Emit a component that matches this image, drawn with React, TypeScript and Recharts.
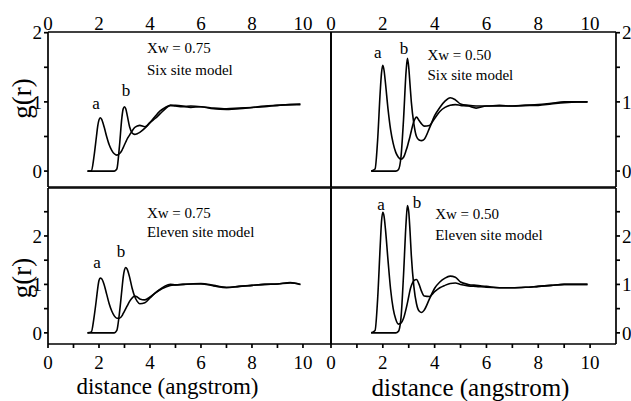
import React from 'react';
import { LineChart, Line, XAxis, YAxis, ReferenceDot } from 'recharts';

// distance grid (angstrom)
const R = [1.55, 1.7, 1.8, 1.9, 1.95, 2.0, 2.05, 2.1, 2.2, 2.3, 2.4, 2.5, 2.6, 2.7, 2.8, 2.9, 2.95, 3.0, 3.05, 3.1, 3.2, 3.3, 3.4, 3.5, 3.6, 3.8, 4.0, 4.2, 4.4, 4.6, 4.8, 5.0, 5.3, 5.6, 6.0, 6.5, 7.0, 7.5, 8.0, 8.5, 9.0, 9.5, 9.9];

// Xw = 0.75, six site model
const SIX75_A = [0, 0, 0.2, 0.5, 0.65, 0.74, 0.77, 0.75, 0.64, 0.5, 0.38, 0.3, 0.25, 0.23, 0.25, 0.3, 0.34, 0.38, 0.42, 0.46, 0.52, 0.58, 0.63, 0.65, 0.66, 0.64, 0.7, 0.79, 0.87, 0.92, 0.95, 0.94, 0.93, 0.94, 0.93, 0.9, 0.89, 0.9, 0.92, 0.94, 0.95, 0.96, 0.96];
const SIX75_B = [0, 0, 0, 0, 0, 0, 0, 0, 0, 0, 0, 0, 0, 0.03, 0.35, 0.78, 0.9, 0.93, 0.9, 0.82, 0.64, 0.55, 0.53, 0.54, 0.56, 0.62, 0.7, 0.76, 0.83, 0.9, 0.95, 0.95, 0.94, 0.92, 0.93, 0.91, 0.9, 0.91, 0.92, 0.93, 0.95, 0.96, 0.97];

// Xw = 0.50, six site model
const SIX50_A = [0, 0.03, 0.45, 1.15, 1.42, 1.53, 1.45, 1.28, 0.9, 0.6, 0.4, 0.27, 0.2, 0.17, 0.2, 0.3, 0.36, 0.43, 0.5, 0.58, 0.72, 0.78, 0.73, 0.68, 0.65, 0.66, 0.76, 0.86, 0.92, 0.95, 0.96, 0.95, 0.94, 0.91, 0.94, 0.94, 0.94, 0.95, 0.95, 0.97, 0.99, 1.0, 1.0];
const SIX50_B = [0, 0, 0, 0, 0, 0, 0, 0, 0, 0, 0, 0, 0.02, 0.2, 0.75, 1.45, 1.63, 1.5, 1.25, 1.0, 0.68, 0.5, 0.45, 0.44, 0.46, 0.62, 0.8, 0.92, 1.01, 1.06, 1.03, 0.97, 0.95, 0.94, 0.94, 0.95, 0.94, 0.95, 0.96, 0.98, 1.0, 1.0, 1.0];

// Xw = 0.75, eleven site model
const ELEVEN75_A = [0, 0.02, 0.3, 0.7, 0.92, 1.08, 1.13, 1.12, 1.0, 0.8, 0.6, 0.45, 0.35, 0.3, 0.3, 0.35, 0.4, 0.45, 0.5, 0.55, 0.65, 0.72, 0.76, 0.74, 0.7, 0.68, 0.74, 0.82, 0.89, 0.94, 0.98, 0.99, 1.0, 1.01, 1.02, 0.98, 0.94, 0.96, 0.98, 1.0, 1.01, 1.04, 1.0];
const ELEVEN75_B = [0, 0, 0, 0, 0, 0, 0, 0, 0, 0, 0, 0, 0, 0.05, 0.4, 0.9, 1.15, 1.3, 1.35, 1.32, 1.15, 0.92, 0.75, 0.65, 0.6, 0.62, 0.72, 0.82, 0.9, 0.97, 1.0, 0.99, 1.0, 1.01, 1.01, 0.97, 0.93, 0.96, 0.98, 1.0, 1.01, 1.03, 1.0];

// Xw = 0.50, eleven site model
const ELEVEN50_A = [0, 0.05, 0.7, 1.8, 2.3, 2.49, 2.4, 2.15, 1.5, 0.9, 0.5, 0.28, 0.18, 0.2, 0.3, 0.5, 0.62, 0.75, 0.88, 0.97, 1.08, 1.1, 1.0, 0.85, 0.76, 0.75, 0.85, 0.93, 0.98, 1.02, 1.03, 1.0, 0.97, 0.96, 0.94, 0.93, 0.93, 0.94, 0.96, 0.98, 1.0, 1.0, 1.0];
const ELEVEN50_B = [0, 0, 0, 0, 0, 0, 0, 0, 0, 0, 0, 0, 0.03, 0.3, 1.2, 2.3, 2.63, 2.5, 2.1, 1.6, 0.95, 0.6, 0.45, 0.42, 0.47, 0.7, 0.92, 1.05, 1.13, 1.17, 1.15, 1.05, 1.0, 0.98, 0.96, 0.93, 0.93, 0.94, 0.96, 0.98, 1.0, 1.0, 1.0];

// ticks
const X_TICKS = [0, 1, 2, 3, 4, 5, 6, 7, 8, 9, 10];
const Y_TICKS_TOP = [0, 0.5, 1, 1.5, 2];
const Y_TICKS_BOTTOM = [0, 0.5, 1, 1.5, 2, 2.5];

const X_TITLE = 'distance (angstrom)';
const Y_TITLE = 'g(r)';

const FONT = '"Liberation Serif", "DejaVu Serif", "Times New Roman", serif';
const INK = '#000';

type Note = { x: number; y: number; text: string; pos: 'center' | 'right'; size: number };

type PanelProps = {
  left: number; top: number; width: number; height: number;
  topH: number; bottomH: number; leftW: number; rightW: number;
  xLabels: 'top' | 'bottom'; yLabels: 'left' | 'right';
  xDomain: [number, number]; yDomain: [number, number]; yTicks: number[];
  a: number[]; b: number[]; notes: Note[];
  yTitle?: { dx: number; dy: number };
  xTitle?: { dx: number; base: number; size: number };
};

const evenFmt = (v: number) => (v % 2 === 0 ? String(v) : '');
const intFmt = (v: number) => (Number.isInteger(v) ? String(v) : '');

function Panel(p: PanelProps) {
  const data = R.map((r, i) => ({ r, a: p.a[i], b: p.b[i] }));
  const axisCommon = { stroke: INK, strokeWidth: 1.7 };
  const tickStyle = { fill: INK, fontSize: 19, fontFamily: FONT };

  const yTitleContent = (props: any) => {
    const vb = props.viewBox || {};
    const cx = vb.x + 22;
    const cy = vb.y + vb.height / 2 + (p.yTitle ? p.yTitle.dy : 0);
    return (
      <text x={cx} y={cy} transform={`rotate(-90 ${cx} ${cy})`} textAnchor="middle" dominantBaseline="central"
        fontSize={27} fill={INK} fontFamily={FONT}>{Y_TITLE}</text>
    );
  };
  const xTitleContent = (props: any) => {
    const vb = props.viewBox || {};
    const t = p.xTitle!;
    return (
      <text x={vb.x + vb.width / 2 + t.dx} y={vb.y + t.base} textAnchor="middle" fontSize={t.size} fill={INK}
        fontFamily={FONT}>{X_TITLE}</text>
    );
  };

  return (
    <div style={{ position: 'absolute', left: p.left, top: p.top, width: p.width, height: p.height }}>
      <LineChart width={p.width} height={p.height} data={data} margin={{ top: 0, right: 0, bottom: 0, left: 0 }}
        style={{ fontFamily: FONT }}>
        <XAxis xAxisId="main" dataKey="r" type="number" domain={p.xDomain} allowDataOverflow ticks={X_TICKS}
          orientation={p.xLabels} height={p.xLabels === 'top' ? p.topH : p.bottomH}
          tickFormatter={evenFmt} axisLine={axisCommon} tickLine={p.xLabels === 'top' ? false : axisCommon}
          tickSize={p.xLabels === 'top' ? 0 : 4} tickMargin={p.xLabels === 'top' ? 2 : 8}
          tick={tickStyle} interval={0}
          label={p.xTitle ? { content: xTitleContent } : undefined} />
        <XAxis xAxisId="edge" dataKey="r" type="number" domain={p.xDomain} allowDataOverflow ticks={X_TICKS}
          orientation={p.xLabels === 'top' ? 'bottom' : 'top'} height={p.xLabels === 'top' ? p.bottomH : p.topH}
          tick={false} axisLine={axisCommon} tickLine={axisCommon} tickSize={4} interval={0} />
        <YAxis yAxisId="main" type="number" domain={p.yDomain} allowDataOverflow ticks={p.yTicks}
          orientation={p.yLabels} width={p.yLabels === 'left' ? p.leftW : p.rightW}
          tickFormatter={intFmt} axisLine={axisCommon} tickLine={axisCommon} tickSize={4} tickMargin={2}
          tick={tickStyle} interval={0}
          label={p.yTitle ? { content: yTitleContent } : undefined} />
        <YAxis yAxisId="edge" type="number" domain={p.yDomain} allowDataOverflow ticks={p.yTicks}
          orientation={p.yLabels === 'left' ? 'right' : 'left'} width={p.yLabels === 'left' ? p.rightW : p.leftW}
          tick={false} axisLine={axisCommon} tickLine={axisCommon} tickSize={4} interval={0} />
        <Line xAxisId="main" yAxisId="main" type="monotone" dataKey="a" stroke={INK} strokeWidth={1.6}
          dot={false} isAnimationActive={false} />
        <Line xAxisId="main" yAxisId="main" type="monotone" dataKey="b" stroke={INK} strokeWidth={1.6}
          dot={false} isAnimationActive={false} />
        {p.notes.map((n, i) => (
          <ReferenceDot key={i} xAxisId="main" yAxisId="main" x={n.x} y={n.y} r={0} fill="none" stroke="none"
            label={{ value: n.text, position: n.pos, offset: 0, fontSize: n.size, fill: INK, fontFamily: FONT }} />
        ))}
      </LineChart>
    </div>
  );
}

export default function App() {
  return (
    <div style={{ position: 'absolute', left: 0, top: 0, width: 631, height: 401, background: '#fff', fontFamily: FONT }}>
      <Panel left={0} top={0} width={340} height={196} topH={32} bottomH={9} leftW={48} rightW={9}
        xLabels="top" yLabels="left" xDomain={[0, 11.1]} yDomain={[-0.23, 2.01]} yTicks={Y_TICKS_TOP}
        a={SIX75_A} b={SIX75_B} yTitle={{ dx: 0, dy: -11 }}
        notes={[
          { x: 1.88, y: 0.99, text: 'a', pos: 'center', size: 17 },
          { x: 3.06, y: 1.17, text: 'b', pos: 'center', size: 17 },
          { x: 3.88, y: 1.78, text: 'Xw = 0.75', pos: 'right', size: 15 },
          { x: 3.88, y: 1.46, text: 'Six site model', pos: 'right', size: 15 },
        ]} />
      <Panel left={322} top={0} width={309} height={196} topH={32} bottomH={9} leftW={9} rightW={15}
        xLabels="top" yLabels="right" xDomain={[0, 11.0]} yDomain={[-0.23, 2.01]} yTicks={Y_TICKS_TOP}
        a={SIX50_A} b={SIX50_B}
        notes={[
          { x: 1.81, y: 1.72, text: 'a', pos: 'center', size: 17 },
          { x: 2.82, y: 1.78, text: 'b', pos: 'center', size: 17 },
          { x: 3.72, y: 1.68, text: 'Xw = 0.50', pos: 'right', size: 15 },
          { x: 3.72, y: 1.4, text: 'Six site model', pos: 'right', size: 15 },
        ]} />
      <Panel left={0} top={179} width={340} height={222} topH={9} bottomH={57} leftW={48} rightW={9}
        xLabels="bottom" yLabels="left" xDomain={[0, 11.1]} yDomain={[-0.23, 2.99]} yTicks={Y_TICKS_BOTTOM}
        a={ELEVEN75_A} b={ELEVEN75_B} yTitle={{ dx: 0, dy: 12 }} xTitle={{ dx: -22, base: 50, size: 23 }}
        notes={[
          { x: 1.92, y: 1.46, text: 'a', pos: 'center', size: 17 },
          { x: 2.86, y: 1.69, text: 'b', pos: 'center', size: 17 },
          { x: 3.88, y: 2.49, text: 'Xw = 0.75', pos: 'right', size: 15 },
          { x: 3.88, y: 2.08, text: 'Eleven site model', pos: 'right', size: 15 },
        ]} />
      <Panel left={322} top={179} width={309} height={222} topH={9} bottomH={57} leftW={9} rightW={15}
        xLabels="bottom" yLabels="right" xDomain={[0, 11.0]} yDomain={[-0.23, 2.99]} yTicks={Y_TICKS_BOTTOM}
        a={ELEVEN50_A} b={ELEVEN50_B} xTitle={{ dx: -3, base: 52, size: 25 }}
        notes={[
          { x: 1.93, y: 2.66, text: 'a', pos: 'center', size: 17 },
          { x: 3.32, y: 2.7, text: 'b', pos: 'center', size: 17 },
          { x: 4.02, y: 2.45, text: 'Xw = 0.50', pos: 'right', size: 15 },
          { x: 4.02, y: 2.02, text: 'Eleven site model', pos: 'right', size: 15 },
        ]} />
    </div>
  );
}
